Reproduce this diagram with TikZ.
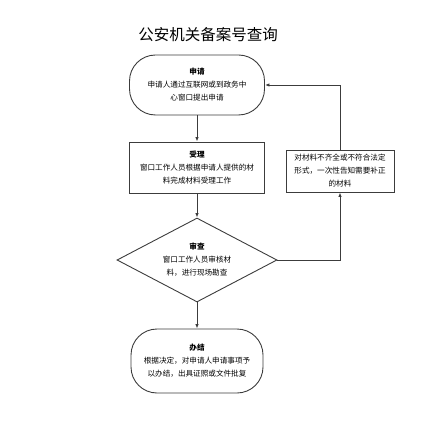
\documentclass[tikz,border=0pt]{standalone}
\usepackage{fontspec}
\setmainfont{Noto Sans CJK SC}
\usetikzlibrary{shapes.geometric,arrows.meta}
\definecolor{linegray}{RGB}{60,60,60}

\begin{document}
\begin{tikzpicture}[x=1pt,y=-1pt,
        txt/.style={align=center,font=\fontsize{7.6}{13}\selectfont},
        endbox/.style={txt,draw=linegray,line width=0.9pt,rounded corners=26pt,inner sep=0pt},
        procbox/.style={txt,draw=linegray,line width=0.9pt,inner sep=0pt},
        link/.style={draw=linegray,line width=0.9pt,-{Latex[length=4.5pt,width=3.5pt]}}]
        \useasboundingbox (0,0) rectangle (427,427);
        % title
        \node (title) at (208,35) {\fontsize{15.5}{17}\selectfont 公安机关备案号查询};
        % main flow
        \node[endbox,minimum width=135pt,minimum height=60pt] (apply) at (197,85)
            {\textbf{申请}\\申请人通过互联网或到政务中\\心窗口提出申请};
        \node[procbox,minimum width=135pt,minimum height=51pt] (accept) at (197,167.5)
            {\textbf{受理}\\窗口工作人员根据申请人提供的材\\料完成材料受理工作};
        \node[txt,draw=linegray,line width=0.9pt,diamond,aspect=1.9,inner sep=0pt,
            minimum width=160pt,minimum height=84pt] (check) at (197,260)
            {\textbf{审查}\\窗口工作人员审核材\\料，进行现场勘查};
        \node[endbox,minimum width=132pt,minimum height=64pt] (finish) at (197,361)
            {\textbf{办结}\\根据决定，对申请人申请事项予\\以办结，出具证照或文件批复};
        % side branch
        \node[procbox,minimum width=108pt,minimum height=42pt] (supply) at (340,171)
            {对材料不齐全或不符合法定\\形式，一次性告知需要补正\\的材料};
        \draw[link] (apply) -- (accept);
        \draw[link] (accept) -- (check);
        \draw[link] (check) -- (finish);
        \draw[link] (check.east) -| (supply.south);
        \draw[link] (supply.north) |- (apply.east);
\end{tikzpicture}
\end{document}
